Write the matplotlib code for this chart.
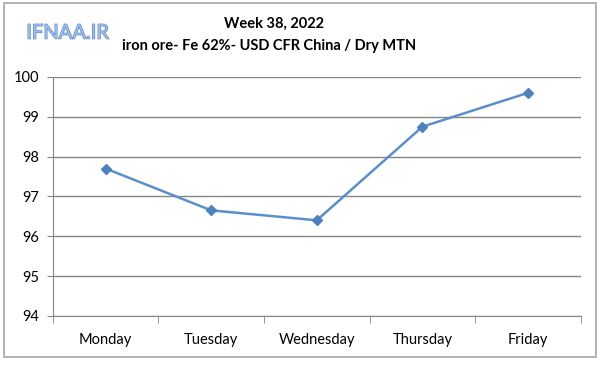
import matplotlib.pyplot as plt
from matplotlib.patches import Rectangle
import matplotlib.patheffects as pe

days = ["Monday", "Tuesday", "Wednesday", "Thursday", "Friday"]
prices = [97.7, 96.65, 96.4, 98.75, 99.6]
yticks = [94, 95, 96, 97, 98, 99, 100]

plt.rcParams['font.family'] = ['Lato', 'DejaVu Sans']

fig = plt.figure(figsize=(6, 3.77), dpi=100)
ax = fig.add_axes([0.088, 0.162, 0.88, 0.634])

# outer chart frame
fig.patches.append(Rectangle((0.006, 0.053), 0.988, 0.94, transform=fig.transFigure,
                             fill=False, edgecolor='#a6a6a6', linewidth=1.2))

x = list(range(len(days)))
ax.plot(x, prices, color='#5b8fc9', linewidth=1.8, marker='D', markersize=5,
        markerfacecolor='#4f81bd', markeredgecolor='#4f81bd')

ax.set_xlim(-0.5, len(days) - 0.5)
ax.set_ylim(94, 100)
ax.set_yticks(yticks)
ax.set_yticklabels([str(v) for v in yticks], fontsize=10.5)
ax.set_xticks(x)
ax.set_xticklabels(days, fontsize=10.5)
ax.tick_params(axis='x', length=0, pad=12)
ax.tick_params(axis='y', length=4, color='#868686', pad=6)

# category boundary ticks
ax.set_xticks([i - 0.5 for i in range(len(days) + 1)], minor=True)
ax.tick_params(axis='x', which='minor', length=5, color='#868686', direction='out')

ax.grid(axis='y', color='#868686', linewidth=1)
ax.set_axisbelow(True)
for s in ['top', 'right']:
    ax.spines[s].set_visible(False)
for s in ['left', 'bottom']:
    ax.spines[s].set_color('#868686')

fig.text(0.457, 0.937, "Week 38, 2022", ha='center', va='center', fontsize=10.5, fontweight='bold')
fig.text(0.448, 0.877, "iron ore- Fe 62%- USD CFR China / Dry MTN", ha='center', va='center',
         fontsize=10.5, fontweight='bold')
fig.text(0.113, 0.912, "IFNAA.IR", ha='center', va='center', fontsize=14.5, color='#9dbfe8',
         path_effects=[pe.withStroke(linewidth=0.9, foreground='#5a82c0')])

fig.savefig("out.png", dpi=100)
